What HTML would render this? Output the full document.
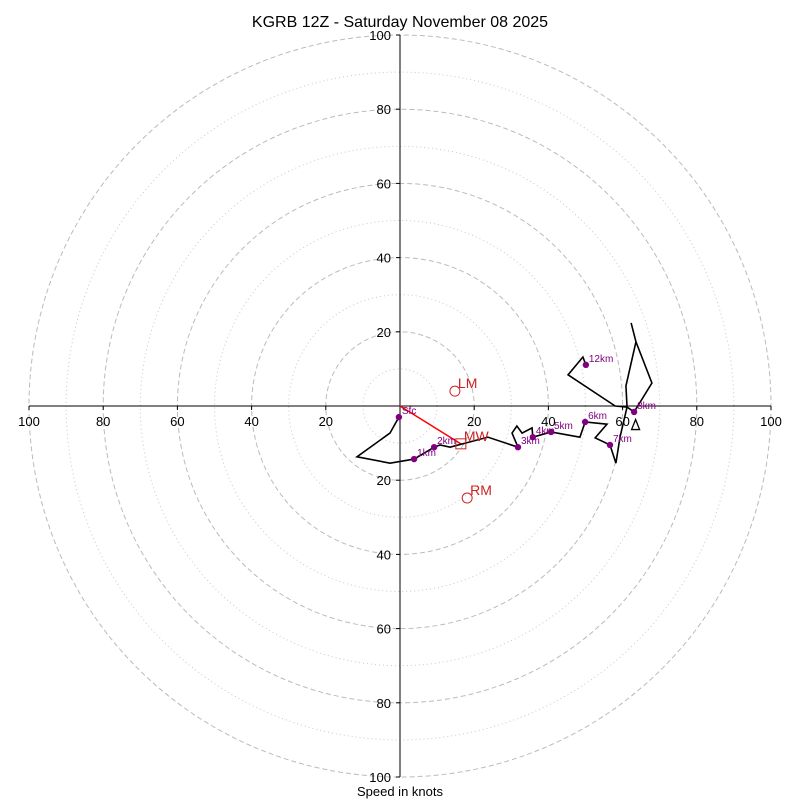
<!DOCTYPE html>
<html><head><meta charset="utf-8"><style>
body{margin:0;background:#fff;}
svg{display:block;font-family:"Liberation Sans","DejaVu Sans",sans-serif;}
</style></head><body>
<svg id="c" width="800" height="800" viewBox="0 0 800 800">
<rect width="800" height="800" fill="#fff"/>
<text x="400" y="27" text-anchor="middle" font-size="16">KGRB 12Z - Saturday November 08 2025</text>
<text x="400" y="796" text-anchor="middle" font-size="13">Speed in knots</text>
<g id="g"></g>
</svg>
<script>
const ringsMajor=[20,40,60,80,100];
const ringsMinor=[10,30,50,70,90];
const tickLabels=[20,40,60,80,100];
const traceU=[-0.3,-2.7,-11.6,-2.7,3.8,9.2,10.8,13.5,23.7,31.8,30.2,31.5,32.9,35.6,35.8,40.7,48.5,49.9,55.8,52.6,56.6,58.2,59.3,61.2,63.1,67.9,63.6,62.3,63.6,60.9,61.2,58.0,45.3,49.3,50.1];
const traceV=[-3.0,-7.3,-13.7,-15.4,-14.3,-11.1,-10.5,-11.1,-8.4,-11.1,-7.3,-5.4,-7.3,-5.9,-8.4,-7.0,-8.4,-4.3,-4.9,-8.6,-10.5,-15.4,-8.4,-0.3,-1.6,6.2,17.3,22.4,17.3,5.4,-0.3,0,8.4,13.2,11.1];
const kmLabels=["Sfc","1km","2km","3km","4km","5km","6km","7km","8km","12km"];
const kmU=[-0.3,3.8,9.2,31.8,35.8,40.7,49.9,56.6,63.1,50.1];
const kmV=[-3.0,-14.3,-11.1,-11.1,-8.4,-7.0,-4.3,-10.5,-1.6,11.1];
const motionNames=["LM","MW","RM"];
const motionU=[14.8,16.4,18.1];
const motionV=[4.0,-10.2,-24.8];
const triU=[63.5], triV=[-5.0];

const cx=400,cy=406,k=3.71;
const X=u=>cx+u*k, Y=v=>cy-v*k;
const g=document.getElementById('g');
const NS='http://www.w3.org/2000/svg';
function mk(t,a,name){const e=document.createElementNS(NS,t);for(const p in a)e.setAttribute(p,a[p]);


g.appendChild(e);return e;}
ringsMinor.forEach(r=>mk('circle',{cx,cy,r:r*k,fill:'none',stroke:'#c8c8c8','stroke-width':1,'stroke-dasharray':'1,3'},'minor-ring-'+r));
ringsMajor.forEach(r=>mk('circle',{cx,cy,r:r*k,fill:'none',stroke:'#bbb','stroke-width':1,'stroke-dasharray':'5,3'},'major-ring-'+r));
mk('line',{x1:X(-100),y1:cy,x2:X(100),y2:cy,stroke:'#000','stroke-width':1},'x-axis');
mk('line',{x1:cx,y1:Y(100),x2:cx,y2:Y(-100),stroke:'#000','stroke-width':1},'y-axis');
tickLabels.forEach(t=>{
 [-1,1].forEach(s=>{
  mk('line',{x1:X(s*t),y1:cy,x2:X(s*t),y2:cy+4,stroke:'#000'},'x-tick');
  const tx=mk('text',{x:X(s*t),y:cy+20,'text-anchor':'middle','font-size':13},'x-tick-label');tx.textContent=t;
  mk('line',{x1:cx,y1:Y(s*t),x2:cx-4,y2:Y(s*t),stroke:'#000'},'y-tick');
  const ty=mk('text',{x:cx-9,y:Y(s*t)+5,'text-anchor':'end','font-size':13},'y-tick-label');ty.textContent=t;
 });
});
mk('line',{x1:cx,y1:cy,x2:X(motionU[1]),y2:Y(motionV[1]),stroke:'red','stroke-width':1.5},'mean-wind-vector');
mk('polyline',{points:traceU.map((u,i)=>X(u)+','+Y(traceV[i])).join(' '),fill:'none',stroke:'#000','stroke-width':1.6,'stroke-linejoin':'miter'},'hodograph-trace');
triU.forEach((u,i)=>mk('polygon',{points:`${X(u)-4},${Y(triV[i])+5} ${X(u)+4},${Y(triV[i])+5} ${X(u)},${Y(triV[i])-5}`,fill:'none',stroke:'#000','stroke-width':1.3},'storm-marker-triangle'));
kmLabels.forEach((l,i)=>{
 mk('circle',{cx:X(kmU[i]),cy:Y(kmV[i]),r:3.2,fill:'purple'},'height-marker-'+l.toLowerCase());
 const t=mk('text',{x:X(kmU[i])+3,y:Y(kmV[i])-3,'font-size':10,fill:'purple'},'height-label-'+l.toLowerCase());t.textContent=l;
});
motionNames.forEach((n,i)=>{
 const x=X(motionU[i]),y=Y(motionV[i]);
 if(n==='MW')mk('rect',{x:x-5,y:y-5,width:10,height:10,fill:'none',stroke:'#c22','stroke-width':1},'mean-wind-marker');
 else mk('circle',{cx:x,cy:y,r:5,fill:'none',stroke:'#c22','stroke-width':1},n.toLowerCase()+'-marker');
 const t=mk('text',{x:x+3,y:y-3,'font-size':14,fill:'#c22'},n.toLowerCase()+'-label');t.textContent=n;
});
</script>
</body></html>
